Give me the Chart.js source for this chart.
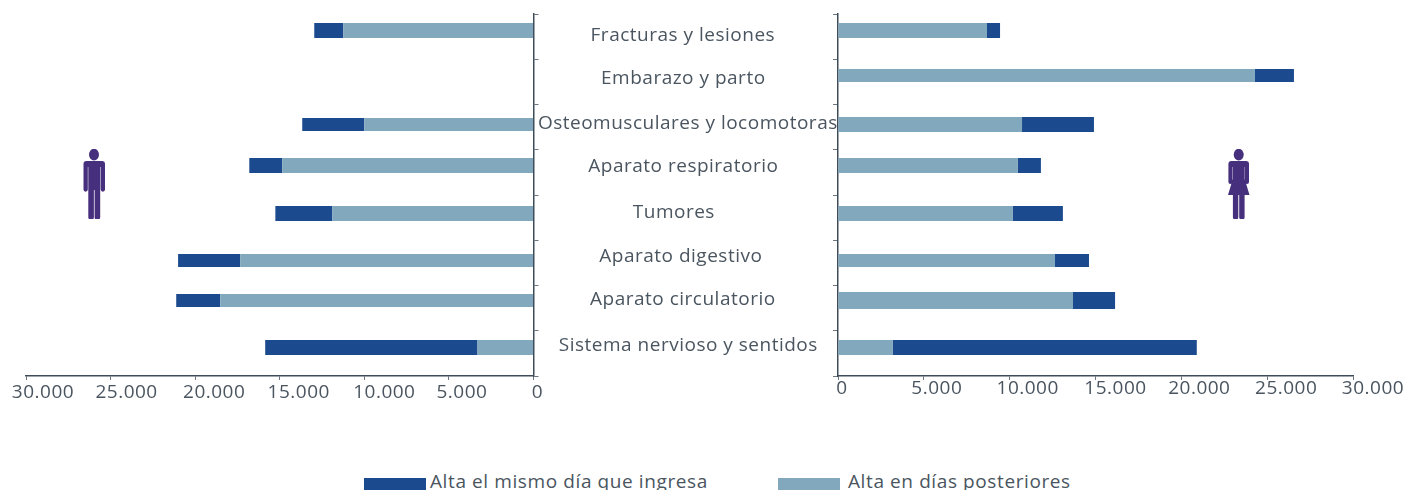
<!DOCTYPE html>
<html>
<head>
<meta charset="utf-8">
<title>Altas por diagnóstico</title>
<script src="https://cdn.jsdelivr.net/npm/chart.js@4"></script>
<style>
    html, body { margin: 0; padding: 0; background: #fff; }
    body { position: relative; width: 1405px; height: 490px; overflow: hidden; font-family: 'Open Sans', sans-serif; color: #4a5560; }
    canvas { position: absolute; top: 0; }
    #menChart { left: 0; }
    #womenChart { left: 530px; }
    .legend-box { position: absolute; top: 478px; width: 62px; height: 12px; }
    .legend-text { position: absolute; top: 469px; font-size: 19px; line-height: 24px; letter-spacing: 0.6px; white-space: nowrap; }
    svg { position: absolute; top: 149px; fill: #46307e; }
</style>
</head>
<body>
<canvas id="menChart" width="545" height="420"></canvas>
<canvas id="womenChart" width="875" height="420"></canvas>

<svg style="left:80px" width="28" height="70" viewBox="0 0 28 70">
    <ellipse cx="14" cy="5.6" rx="5" ry="5.8"/>
    <path d="M6 12H22a3 3 0 0 1 3 3V40.500a2 2 0 0 1-4.300 0V18H20.200V68a2.800 2.800 0 0 1-5.600 0V41H13.900V68a2.800 2.800 0 0 1-5.600 0V18H7.800V40.500a2 2 0 0 1-4.300 0V15a3 3 0 0 1 3-3z"/>
</svg>
<svg style="left:1225px" width="28" height="70" viewBox="0 0 28 70">
    <ellipse cx="13.700" cy="5.600" rx="5" ry="5.800"/>
    <path d="M6 12H21a3 3 0 0 1 3 3V33a1.900 1.900 0 0 1-4 0V18H19.700V30L24.500 46H19.600V68a2.700 2.700 0 0 1-5.400 0V46H13.300V68a2.700 2.700 0 0 1-5.400 0V46H3L7.800 30V18H7.400V33a1.900 1.900 0 0 1-4 0V15a3 3 0 0 1 3-3z"/>
</svg>

<div class="legend-box" style="left:364px;background:#1b4a8e"></div>
<div class="legend-text" id="legendSame" style="left:430px"></div>
<div class="legend-box" style="left:778px;background:#82a8be"></div>
<div class="legend-text" id="legendLater" style="left:848px"></div>

<script>
// Data
const categories = ['Fracturas y lesiones', 'Embarazo y parto', 'Osteomusculares y locomotoras', 'Aparato respiratorio', 'Tumores', 'Aparato digestivo', 'Aparato circulatorio', 'Sistema nervioso y sentidos'];
const seriesNames = ['Alta el mismo día que ingresa', 'Alta en días posteriores'];
const menLater = [11240, 0, 10000, 14850, 11890, 17340, 18520, 3310];
const menSame = [1720, 0, 3670, 1950, 3370, 3670, 2600, 12550];
const womenLater = [8680, 24290, 10720, 10480, 10190, 12640, 13690, 3200];
const womenSame = [760, 2270, 4190, 1340, 2910, 1980, 2450, 17700];
const xTickLabels = ['0', '5.000', '10.000', '15.000', '20.000', '25.000', '30.000'];

const darkBlue = '#1b4a8e';
const lightBlue = '#82a8be';
const axisColor = '#3e4c59';
const tickColor = '#6b7680';
const textColor = '#4a5560';
const fontFamily = "'Open Sans', sans-serif";
const tickStep = 5000;

// The original artwork is hand placed: rows and labels sit off the tick grid
const rowShift = [-6.3, -6.5, -2.5, -6.6, -3.7, -2.8, -7.9, -6];
const menRowHeight = [15, 15, 13, 15, 15, 13, 13, 15];
const womenRowHeight = [15, 13, 15, 15, 15, 13, 17, 15];
const menTickShift = [4, 13, 20, 19, 19, 16, 17];
const womenTickShift = [4, 13, 18, 20, 18, 19, 20];
const labelShiftX = [-7.5, -7, -2.5, -7, -16.5, -9.5, -7.5, -2];
const labelShiftY = [-1.500, -3.600, -3.700, -5.800, -4.900, -6, -9, -8];

document.getElementById('legendSame').textContent = seriesNames[0];
document.getElementById('legendLater').textContent = seriesNames[1];

function hospitalChart(canvasId, later, same, opts) {
    // moves bars and labels to where the artwork has them
    const placement = {
        id: 'placement',
        afterDatasetsUpdate(chart) {
            chart.data.datasets.forEach((ds, d) => {
                chart.getDatasetMeta(d).data.forEach((bar, i) => {
                    const h = opts.rowHeight[i];
                    bar.y = Math.round(bar.y + rowShift[i] - h / 2) + h / 2;
                    bar.height = h;
                });
            });
        },
        afterLayout(chart) {
            const xScale = chart.scales.x;
            xScale.getLabelItems().forEach((item, i) => {
                item.options.translation[0] += opts.tickShift[xScale.ticks[i].value / tickStep];
            });
            if (opts.showLabels) {
                chart.scales.y.getLabelItems().forEach((item, i) => {
                    item.options.translation[0] += labelShiftX[i];
                    item.options.translation[1] += labelShiftY[i];
                });
            }
        },
        beforeDraw(chart) {
            chart.ctx.letterSpacing = '0.5px';
        }
    };

    return new Chart(document.getElementById(canvasId), {
        type: 'bar',
        data: {
            labels: categories,
            datasets: [
                { label: seriesNames[1], data: later, backgroundColor: lightBlue },
                { label: seriesNames[0], data: same, backgroundColor: darkBlue }
            ]
        },
        options: {
            indexAxis: 'y',
            responsive: false,
            animation: false,
            devicePixelRatio: 1,
            layout: { padding: opts.padding },
            plugins: { legend: { display: false }, tooltip: { enabled: false } },
            scales: {
                x: {
                    stacked: true,
                    reverse: opts.reverse,
                    min: 0,
                    max: 30000,
                    afterFit(scale) {
                        scale.height = 44;
                        scale.paddingLeft = 0;
                        scale.paddingRight = 0;
                    },
                    border: { color: axisColor, width: 1.5 },
                    grid: { drawOnChartArea: false, color: tickColor, tickLength: 4 },
                    ticks: {
                        stepSize: tickStep,
                        maxRotation: 0,
                        autoSkip: false,
                        padding: opts.tickPadding,
                        color: textColor,
                        font: { family: fontFamily, size: 19 },
                        callback: function(value) {
                            return xTickLabels[value / tickStep];
                        }
                    }
                },
                y: {
                    stacked: true,
                    position: opts.yPosition,
                    afterFit(scale) {
                        scale.width = opts.yWidth;
                    },
                    border: { color: axisColor, width: 1.5 },
                    grid: { offset: true, drawOnChartArea: false, color: tickColor, tickLength: 5 },
                    ticks: {
                        display: opts.showLabels,
                        crossAlign: 'center',
                        padding: 0,
                        autoSkip: false,
                        color: textColor,
                        font: { family: fontFamily, size: 19 }
                    }
                }
            }
        },
        plugins: [placement]
    });
}

document.addEventListener('DOMContentLoaded', function() {
    hospitalChart('menChart', menLater, menSame, {
        reverse: true,
        yPosition: 'right',
        yWidth: 11.5,
        showLabels: false,
        tickPadding: 1,
        tickShift: menTickShift,
        rowHeight: menRowHeight,
        padding: { left: 26, right: 0, top: 14, bottom: 0 }
    });
    hospitalChart('womenChart', womenLater, womenSame, {
        reverse: false,
        yPosition: 'left',
        yWidth: 308,
        showLabels: true,
        tickPadding: -3,
        tickShift: womenTickShift,
        rowHeight: womenRowHeight,
        padding: { left: 0, right: 52, top: 14, bottom: 0 }
    });
});
</script>
</body>
</html>
